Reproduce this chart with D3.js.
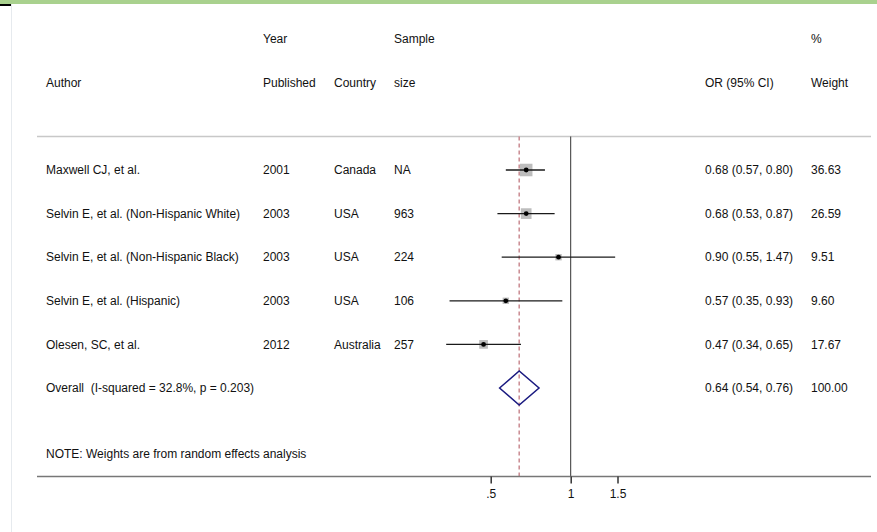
<!DOCTYPE html>
<html>
<head>
<meta charset="utf-8">
<script src="https://cdn.jsdelivr.net/npm/d3@7"></script>
<style>
  html, body { margin: 0; padding: 0; background: #fff; }
  svg { display: block; }
  text { font-family: "Liberation Sans", Arial, sans-serif; font-size: 12px; fill: #111; }
</style>
</head>
<body>
<svg id="chart" width="877" height="532"></svg>
<script>
// Study-level rows
const authors   = ["Maxwell CJ, et al.", "Selvin E, et al. (Non-Hispanic White)", "Selvin E, et al. (Non-Hispanic Black)", "Selvin E, et al. (Hispanic)", "Olesen, SC, et al."];
const years     = ["2001", "2003", "2003", "2003", "2012"];
const countries = ["Canada", "USA", "USA", "USA", "Australia"];
const samples   = ["NA", "963", "224", "106", "257"];
const orValues  = [0.68, 0.68, 0.90, 0.57, 0.47];
const ciLower   = [0.57, 0.53, 0.55, 0.35, 0.34];
const ciUpper   = [0.80, 0.87, 1.47, 0.93, 0.65];
const weights   = [36.63, 26.59, 9.51, 9.60, 17.67];

// Pooled estimate (random effects)
const overallLabel = "Overall  (I-squared = 32.8%, p = 0.203)";
const overallOR = 0.64, overallLo = 0.54, overallHi = 0.76, overallWeight = 100.00;
const noteText = "NOTE: Weights are from random effects analysis";

// Axis ticks
const tickValues = [0.5, 1, 1.5];
const tickLabels = [".5", "1", "1.5"];

const svg = d3.select("#chart");
const W = 877, H = 532;

// Frame decoration
svg.append("rect").attr("x", 0).attr("y", 0).attr("width", W).attr("height", 4).attr("fill", "#a9d18e");
svg.append("rect").attr("x", 0).attr("y", 4).attr("width", 11).attr("height", 2).attr("fill", "#000");
svg.append("line").attr("x1", 11.5).attr("x2", 11.5).attr("y1", 4).attr("y2", H)
  .attr("stroke", "#e6eaee").attr("stroke-width", 1);

// Scales
const x = d3.scaleLog().domain([0.5, 1.5]).range([490.7, 617.5]);
const nRows = authors.length + 1;
const y = d3.scaleLinear().domain([0, nRows - 1]).range([170, 388]);
const boxSide = d3.scaleSqrt().domain([0, 100]).range([0, 20.7]);

const left = 37, right = 871, topLine = 136.5, axisY = 476.5;

const fmt2 = d3.format(".2f");
const ciText = (o, l, u) => `${fmt2(o)} (${fmt2(l)}, ${fmt2(u)})`;

// Column headers
const col = { author: 46, year: 263, country: 334, sample: 394, ci: 705, weight: 811 };
const header = svg.append("g");
const h1 = 39, h2 = 83;
[
  ["Year", col.year, h1], ["Published", col.year, h2],
  ["Sample", col.sample, h1], ["size", col.sample, h2],
  ["%", 811, h1], ["Weight", col.weight, h2],
  ["Author", col.author, h2], ["Country", col.country, h2],
  ["OR (95% CI)", col.ci, h2]
].forEach(([t, xx, yy]) => {
  header.append("text").attr("x", xx).attr("y", yy).attr("dy", "0.35em").text(t);
});

// Rules
svg.append("line").attr("x1", left).attr("x2", right).attr("y1", topLine).attr("y2", topLine)
  .attr("stroke", "#c8c8c8").attr("stroke-width", 1.5);

// Null line and pooled-estimate reference line
svg.append("line").attr("x1", x(1)).attr("x2", x(1)).attr("y1", topLine).attr("y2", axisY)
  .attr("stroke", "#333").attr("stroke-width", 1);
svg.append("line").attr("x1", x(overallOR)).attr("x2", x(overallOR)).attr("y1", topLine).attr("y2", axisY)
  .attr("stroke", "#c98a90").attr("stroke-width", 1.5).attr("stroke-dasharray", "4,3");

// Study rows
const rows = svg.append("g").selectAll("g").data(authors).join("g")
  .attr("transform", (d, i) => `translate(0,${y(i)})`);

rows.append("rect")
  .attr("x", (d, i) => x(orValues[i]) - boxSide(weights[i]) / 2)
  .attr("y", (d, i) => -boxSide(weights[i]) / 2)
  .attr("width", (d, i) => boxSide(weights[i]))
  .attr("height", (d, i) => boxSide(weights[i]))
  .attr("fill", "#bdbdbd");
rows.append("line")
  .attr("x1", (d, i) => x(ciLower[i])).attr("x2", (d, i) => x(ciUpper[i]))
  .attr("y1", 0).attr("y2", 0)
  .attr("stroke", "#1a1a1a").attr("stroke-width", 1.3);
rows.append("circle")
  .attr("cx", (d, i) => x(orValues[i])).attr("cy", 0).attr("r", 2.4).attr("fill", "#000");

rows.append("text").attr("x", col.author).attr("dy", "0.35em").text(d => d);
rows.append("text").attr("x", col.year).attr("dy", "0.35em").text((d, i) => years[i]);
rows.append("text").attr("x", col.country).attr("dy", "0.35em").text((d, i) => countries[i]);
rows.append("text").attr("x", col.sample).attr("dy", "0.35em").text((d, i) => samples[i]);
rows.append("text").attr("x", col.ci).attr("dy", "0.35em").text((d, i) => ciText(orValues[i], ciLower[i], ciUpper[i]));
rows.append("text").attr("x", col.weight).attr("dy", "0.35em").text((d, i) => fmt2(weights[i]));

// Overall row
const oy = y(nRows - 1);
const dh = 17;
svg.append("path")
  .attr("d", `M${x(overallLo)},${oy} L${x(overallOR)},${oy - dh} L${x(overallHi)},${oy} L${x(overallOR)},${oy + dh} Z`)
  .attr("fill", "none").attr("stroke", "#1a1a80").attr("stroke-width", 1.5);
svg.append("text").attr("x", col.author).attr("y", oy).attr("dy", "0.35em").style("white-space", "pre").text(overallLabel);
svg.append("text").attr("x", col.ci).attr("y", oy).attr("dy", "0.35em").text(ciText(overallOR, overallLo, overallHi));
svg.append("text").attr("x", col.weight).attr("y", oy).attr("dy", "0.35em").text(fmt2(overallWeight));

// Note
svg.append("text").attr("x", col.author).attr("y", 454).attr("dy", "0.35em").text(noteText);

// X axis
svg.append("line").attr("x1", left).attr("x2", right).attr("y1", axisY).attr("y2", axisY)
  .attr("stroke", "#777").attr("stroke-width", 1.5);
const axis = d3.axisBottom(x).tickValues(tickValues)
  .tickFormat((d, i) => tickLabels[i]).tickSize(7).tickPadding(6);
const gAxis = svg.append("g").attr("transform", `translate(0,${axisY})`).call(axis);
gAxis.select(".domain").remove();
gAxis.selectAll(".tick line").attr("stroke", "#333").attr("stroke-width", 1.5);
gAxis.selectAll(".tick text").attr("font-size", null).attr("font-family", null).style("fill", "#111");
</script>
</body>
</html>
